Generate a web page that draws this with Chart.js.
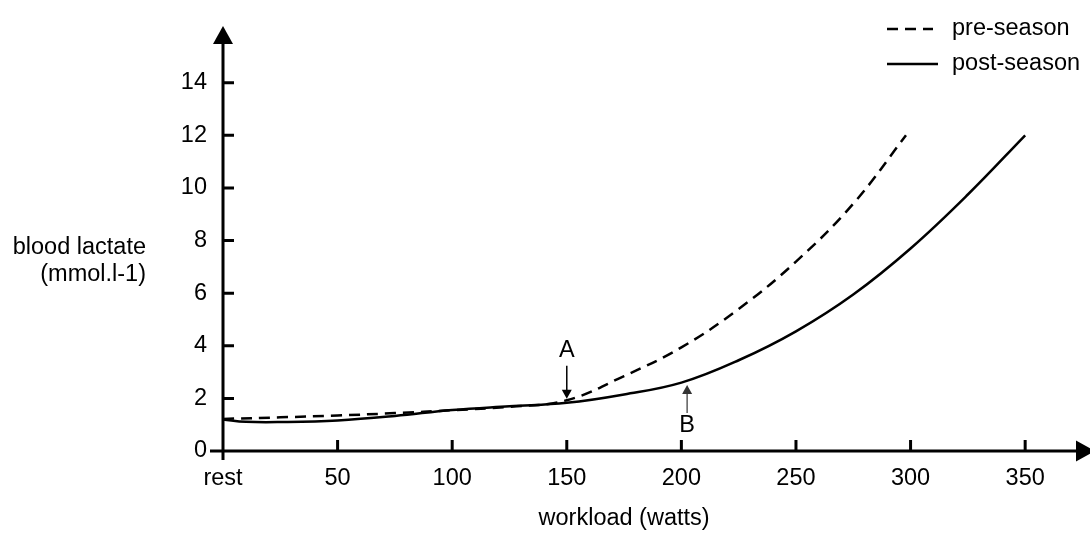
<!DOCTYPE html>
<html>
<head>
    <title>Blood lactate vs workload</title>
    <script src="https://cdn.jsdelivr.net/npm/chart.js"></script>
    <style>
        body {
            margin: 0;
            background-color: #fff;
        }
        canvas {
            display: block;
        }
    </style>
</head>
<body>
    <canvas id="lactateChart" width="1090" height="534"></canvas>

    <script>
        // axis ticks
        var workloadTicks = [0, 50, 100, 150, 200, 250, 300, 350];
        var workloadLabels = ['rest', '50', '100', '150', '200', '250', '300', '350'];
        var lactateTicks = [0, 2, 4, 6, 8, 10, 12, 14];

        // pre-season curve (watts, mmol/l)
        var preSeasonWatts = [0, 25, 50, 75, 100, 125, 150, 175, 200, 225, 250, 275, 298];
        var preSeasonLactate = [1.22, 1.28, 1.35, 1.44, 1.55, 1.68, 1.93, 2.85, 3.94, 5.4, 7.2, 9.4, 12.0];

        // post-season curve (watts, mmol/l)
        var postSeasonWatts = [0, 10, 25, 50, 75, 100, 125, 150, 175, 200, 225, 250, 275, 300, 325, 350];
        var postSeasonLactate = [1.2, 1.11, 1.1, 1.16, 1.33, 1.56, 1.7, 1.83, 2.15, 2.6, 3.45, 4.55, 5.95, 7.7, 9.75, 12.0];

        // marked points A and B (watts, arrow tail / tip / label in mmol/l)
        var markerLabels = ['A', 'B'];
        var markerWatts = [150, 202.5];
        var markerTail = [3.24, 1.44];
        var markerTip = [1.99, 2.51];
        var markerText = [3.82, 0.96];

        var xTitle = 'workload (watts)';
        var yTitleLines = ['blood lactate', '(mmol.l-1)'];

        var FONT = '23.5px "Liberation Sans", Arial, sans-serif';

        function toPoints(xs, ys) {
            return xs.map(function (x, i) { return { x: x, y: ys[i] }; });
        }

        function arrowHead(ctx, x, tipY, dir) {
            // dir = 1 pointing down, -1 pointing up
            ctx.beginPath();
            ctx.moveTo(x, tipY);
            ctx.lineTo(x - 5, tipY - dir * 9);
            ctx.lineTo(x + 5, tipY - dir * 9);
            ctx.closePath();
            ctx.fill();
        }

        var decorations = {
            id: 'decorations',
            afterDraw: function (chart) {
                var ctx = chart.ctx;
                var xs = chart.scales.x, ys = chart.scales.y;
                var area = chart.chartArea;
                var x0 = xs.getPixelForValue(0), y0 = ys.getPixelForValue(0);

                ctx.save();
                ctx.strokeStyle = '#000';
                ctx.fillStyle = '#000';

                // axes
                ctx.lineWidth = 3;
                ctx.beginPath();
                ctx.moveTo(x0 - 13, y0);
                ctx.lineTo(1078, y0);
                ctx.moveTo(x0, y0 + 9);
                ctx.lineTo(x0, area.top + 12);
                ctx.stroke();

                ctx.beginPath();
                ctx.moveTo(x0, area.top - 4);
                ctx.lineTo(x0 - 10, area.top + 14);
                ctx.lineTo(x0 + 10, area.top + 14);
                ctx.closePath();
                ctx.fill();

                ctx.beginPath();
                ctx.moveTo(1095, y0);
                ctx.lineTo(1076, y0 - 10.5);
                ctx.lineTo(1076, y0 + 10.5);
                ctx.closePath();
                ctx.fill();

                // inward tick marks
                ctx.beginPath();
                lactateTicks.forEach(function (v) {
                    if (v === 0) return;
                    var py = ys.getPixelForValue(v);
                    ctx.moveTo(x0, py);
                    ctx.lineTo(x0 + 11, py);
                });
                workloadTicks.forEach(function (v) {
                    if (v === 0) return;
                    var px = xs.getPixelForValue(v);
                    ctx.moveTo(px, y0);
                    ctx.lineTo(px, y0 - 11);
                });
                ctx.stroke();

                // axis titles
                ctx.font = FONT;
                ctx.textBaseline = 'middle';
                ctx.textAlign = 'center';
                ctx.fillText(xTitle, xs.getPixelForValue(175), 519);
                ctx.textAlign = 'right';
                yTitleLines.forEach(function (line, i) {
                    ctx.fillText(line, 146, 248 + i * 27);
                });

                // A / B markers
                markerLabels.forEach(function (label, i) {
                    var px = xs.getPixelForValue(markerWatts[i]);
                    var tail = ys.getPixelForValue(markerTail[i]);
                    var tip = ys.getPixelForValue(markerTip[i]);
                    var dir = tip > tail ? 1 : -1;
                    var color = i === 0 ? '#000' : '#333';
                    ctx.strokeStyle = color;
                    ctx.fillStyle = color;
                    ctx.lineWidth = i === 0 ? 1.5 : 1.2;
                    ctx.beginPath();
                    ctx.moveTo(px, tail);
                    ctx.lineTo(px, tip - dir * 8);
                    ctx.stroke();
                    arrowHead(ctx, px, tip, dir);
                    ctx.fillStyle = '#000';
                    ctx.textAlign = 'center';
                    ctx.fillText(label, px, ys.getPixelForValue(markerText[i]));
                });

                // legend
                ctx.textAlign = 'left';
                ctx.fillStyle = '#000';
                ctx.strokeStyle = '#000';
                ctx.lineWidth = 2.5;
                chart.data.datasets.forEach(function (ds, i) {
                    var ly = 29 + i * 35;
                    ctx.setLineDash(ds.borderDash || []);
                    ctx.beginPath();
                    ctx.moveTo(887, ly);
                    ctx.lineTo(i === 0 ? 933 : 938, ly);
                    ctx.stroke();
                    ctx.setLineDash([]);
                    ctx.fillText(ds.label, 952, ly);
                });

                ctx.restore();
            }
        };

        var chart = new Chart(document.getElementById('lactateChart').getContext('2d'), {
            type: 'line',
            data: {
                datasets: [{
                    label: 'pre-season',
                    data: toPoints(preSeasonWatts, preSeasonLactate),
                    borderColor: '#000',
                    borderWidth: 2.5,
                    borderDash: [11, 7],
                    pointRadius: 0,
                    tension: 0.4,
                    fill: false
                }, {
                    label: 'post-season',
                    data: toPoints(postSeasonWatts, postSeasonLactate),
                    borderColor: '#000',
                    borderWidth: 2.5,
                    pointRadius: 0,
                    tension: 0.4,
                    fill: false
                }]
            },
            options: {
                responsive: false,
                animation: false,
                layout: {
                    padding: { top: 17, right: 19, left: 0, bottom: 0 }
                },
                plugins: {
                    legend: { display: false },
                    tooltip: { enabled: false }
                },
                scales: {
                    x: {
                        type: 'linear',
                        min: 0,
                        max: 370,
                        grid: { display: false, drawTicks: false },
                        border: { display: false },
                        afterBuildTicks: function (scale) {
                            scale.ticks = workloadTicks.map(function (v) { return { value: v }; });
                        },
                        afterFit: function (scale) { scale.height = 83; },
                        ticks: {
                            padding: 13,
                            color: '#000',
                            font: { family: '"Liberation Sans", Arial, sans-serif', size: 23.5 },
                            maxRotation: 0,
                            autoSkip: false,
                            callback: function (value) {
                                return workloadLabels[workloadTicks.indexOf(value)];
                            }
                        }
                    },
                    y: {
                        min: 0,
                        max: 16,
                        grid: { display: false, drawTicks: false },
                        border: { display: false },
                        afterBuildTicks: function (scale) {
                            scale.ticks = lactateTicks.map(function (v) { return { value: v }; });
                        },
                        afterFit: function (scale) { scale.width = 223; },
                        ticks: {
                            padding: 16,
                            color: '#000',
                            font: { family: '"Liberation Sans", Arial, sans-serif', size: 23.5 },
                            autoSkip: false
                        }
                    }
                }
            },
            plugins: [decorations]
        });
    </script>
</body>
</html>
